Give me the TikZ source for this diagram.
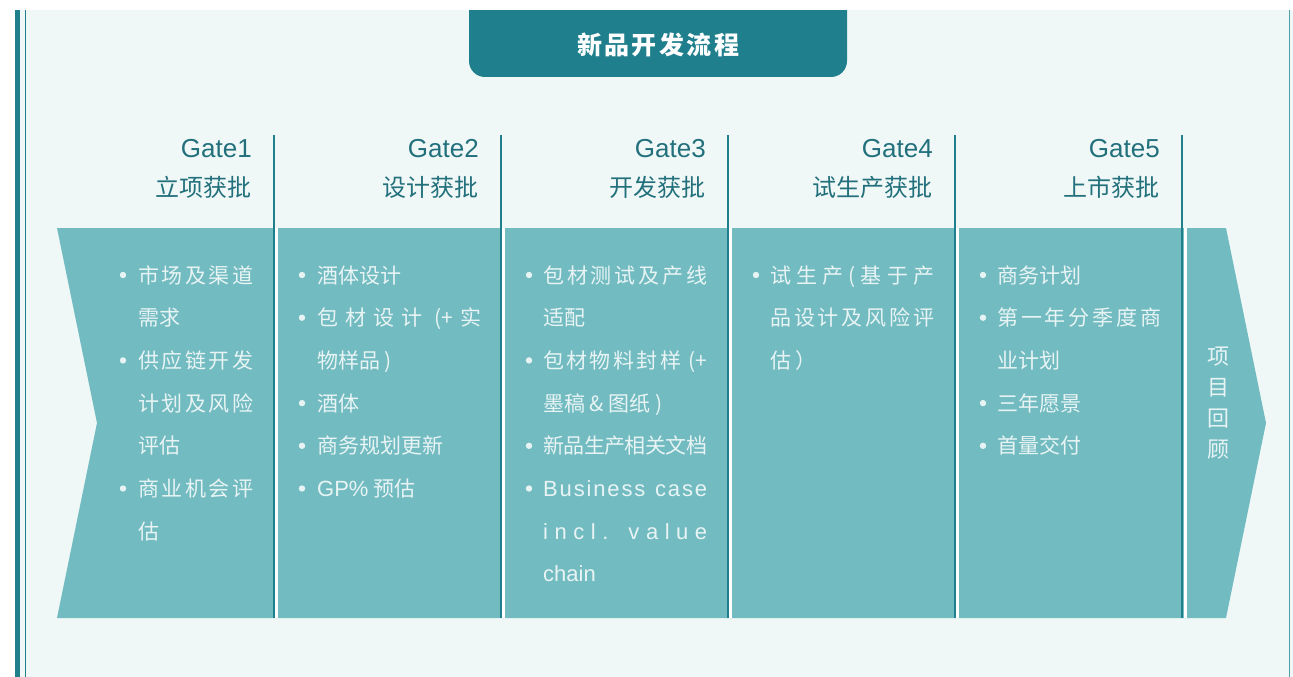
\documentclass[tikz,border=0pt]{standalone}
\usepackage{fontspec}
\setmainfont{Noto Sans CJK SC}
\newfontfamily\latinfont{Liberation Sans}
\usepackage{xcolor}
\usetikzlibrary{positioning}
\definecolor{mint}{HTML}{F0F8F7}
\definecolor{deepteal}{HTML}{1F7F8C}
\definecolor{bandteal}{HTML}{72BBC1}
\definecolor{headteal}{HTML}{22707C}
\definecolor{paletext}{HTML}{E8F4F4}
\definecolor{rimteal}{HTML}{4E9FA8}
% spread a line over a given width (justified lines)
\newcommand{\spread}[2]{\makebox[#1][s]{\spaceskip=0pt plus 1fil minus 2pt\xspaceskip=\spaceskip #2}}
\newcommand{\lat}{\latinfont\fontsize{22}{25}\selectfont}
\tikzset{
gatehead/.style={anchor=base east, inner sep=0pt, text=headteal, font=\fontsize{24}{28}\selectfont},
bodyline/.style={anchor=base west, inner sep=0pt, text=paletext, font=\fontsize{21}{25}\selectfont},
bulletdot/.style={circle, fill=paletext, inner sep=0pt, minimum size=6.4pt},
gateline/.style={draw=deepteal, line width=1.7pt},
gapline/.style={draw=white, line width=3pt}
}

\begin{document}
\begin{tikzpicture}[x=1pt,y=-1pt]
\useasboundingbox (0,0) rectangle (1293,677);
\fill[white] (0,0) rectangle (1293,677);
\fill[mint] (15,10) rectangle (1293,677);
\fill[deepteal] (15,10) rectangle (20.3,677);
\fill[deepteal] (24.6,10) rectangle (26,677);
\draw[rimteal, line width=1.4pt] (1289.5,10) -- (1289.5,677);

% title tab
\fill[deepteal, rounded corners=16pt] (469,-20) rectangle (847,77);
\fill[white] (0,0) rectangle (1293,10);
\node[inner sep=0pt, anchor=base, text=white, font=\fontsize{25}{28}\selectfont\bfseries] (title) at (658,55)
  {\spread{162pt}{新 品 开 发 流 程}};

% chevron band
\fill[bandteal] (57,228) -- (1226,228) -- (1266,423) -- (1226,618) -- (57,618) -- (97,423) -- cycle;
\foreach \x in {276,503,730,957,1185}
  \draw[gapline] (\x,228) -- (\x,618);

% gates
\foreach \x/\n/\txt in {274/1/立项获批, 501/2/设计获批, 728/3/开发获批, 955/4/试生产获批, 1182/5/上市获批}{
  \draw[gateline] (\x,135) -- (\x,618);
  \node[gatehead] (gate\n) at (\x-22,157) {\latinfont\fontsize{26}{30}\selectfont Gate\n};
  \node[gatehead] (appr\n) at (\x-22,196) {\txt};
}

% column 1
\foreach \r/\txt in {0/{\spread{115pt}{市 场 及 渠 道}}, 1/需求, 2/{\spread{115pt}{供 应 链 开 发}},
  3/{\spread{115pt}{计 划 及 风 险}}, 4/评估, 5/{\spread{115pt}{商 业 机 会 评}}, 6/估}
  \node[bodyline] (ca\r) at (138,283+42.7*\r) {\txt};
\foreach \r in {0,2,5}
  \node[bulletdot] (ba\r) at (123,275+42.7*\r) {};

% column 2
\foreach \r/\txt in {0/酒体设计, 1/{\spread{164pt}{包 材 设 计 \hspace{5pt}(+ 实}}, 2/{物样品 )}, 3/酒体, 4/商务规划更新,
  5/{{\lat GP\%} 预估}}
  \node[bodyline] (cb\r) at (317,283+42.7*\r) {\txt};
\foreach \r in {0,1,3,4,5}
  \node[bulletdot] (bb\r) at (302,275+42.7*\r) {};

% column 3
\foreach \r/\txt in {0/{\spread{164pt}{包 材 测 试 及 产 线}}, 1/适配, 2/{\spread{164pt}{包 材 物 料 封 样 \hspace{5pt}(+}},
  3/{墨稿 \& 图纸 )}, 4/{\spread{164pt}{新 品 生 产 相 关 文 档}}, 5/{\lat\spread{164pt}{B u s i n e s s \hspace{6pt} c a s e}},
  6/{\lat\spread{164pt}{i n c l . \hspace{7pt} v a l u e}}, 7/{\lat chain}}
  \node[bodyline] (cc\r) at (543,283+42.7*\r) {\txt};
\foreach \r in {0,2,4,5}
  \node[bulletdot] (bc\r) at (529,275+42.7*\r) {};

% column 4
\foreach \r/\txt in {0/{\spread{164pt}{试 生 产 ( 基 于 产}}, 1/{\spread{164pt}{品 设 计 及 风 险 评}}, 2/{估\hspace{4pt}）}}
  \node[bodyline] (cd\r) at (770,283+42.7*\r) {\txt};
\node[bulletdot] (bd0) at (756,275) {};

% column 5
\foreach \r/\txt in {0/商务计划, 1/{\spread{164pt}{第 一 年 分 季 度 商}}, 2/业计划, 3/三年愿景, 4/首量交付}
  \node[bodyline] (ce\r) at (997,283+42.7*\r) {\txt};
\foreach \r in {0,1,3,4}
  \node[bulletdot] (be\r) at (983,275+42.7*\r) {};

% review
\node[align=center, inner sep=0pt, text=paletext, font=\fontsize{22}{31}\selectfont] (review) at (1218,403) {项\\目\\回\\顾};
\end{tikzpicture}
\end{document}
